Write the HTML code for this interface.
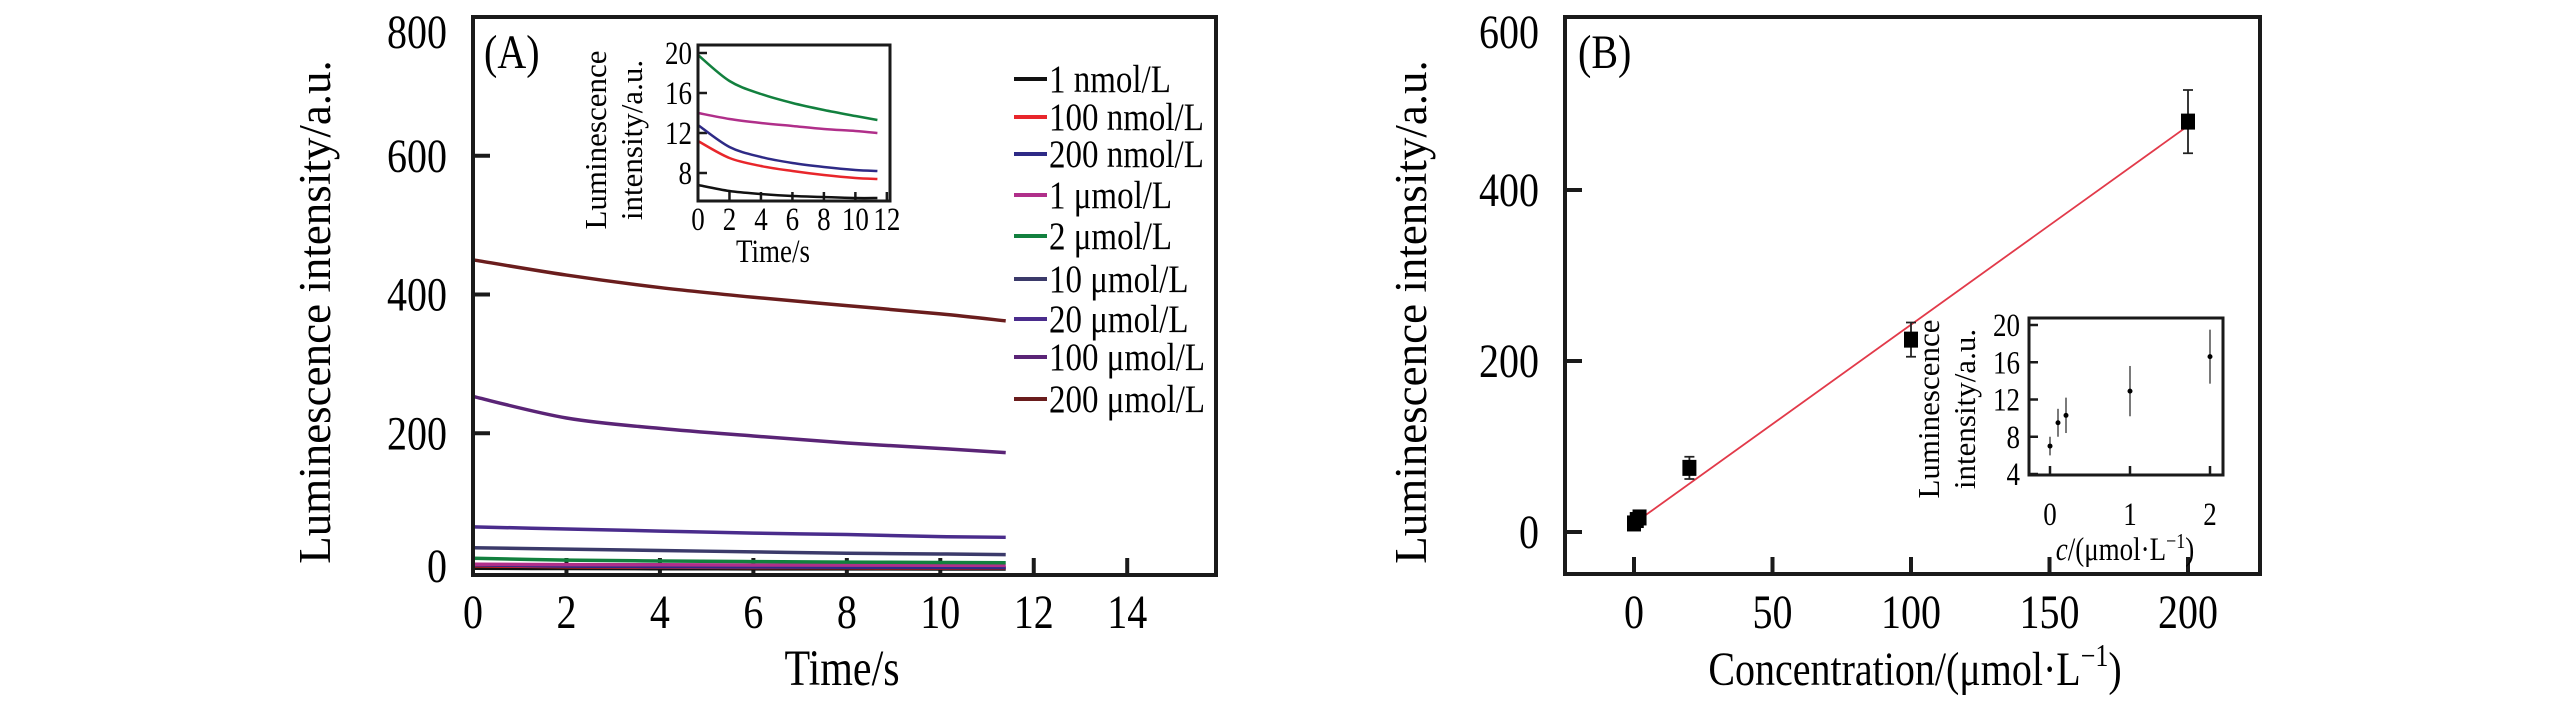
<!DOCTYPE html>
<html><head><meta charset="utf-8"><style>
body{margin:0;background:#fff}
svg{display:block;font-family:"Liberation Serif",serif}
</style></head><body>
<svg id="fig" width="2567" height="709" viewBox="0 0 2567 709" xmlns="http://www.w3.org/2000/svg">
<g id="A"></g><g id="B"></g>
</svg>
<script>
// Panel A data
const tA = [0, 2, 4, 6, 8, 10, 11.4];
const seriesNames = ["1 nmol/L","100 nmol/L","200 nmol/L","1 μmol/L","2 μmol/L","10 μmol/L","20 μmol/L","100 μmol/L","200 μmol/L"];
const seriesColors = ["#111111","#e8262b","#2e2a86","#b02f8a","#12803e","#3b3a6a","#4a2c8c","#5a2476","#6a1d1d"];
const s1n = [6.8, 6.2, 5.9, 5.7, 5.6, 5.5, 5.5];
const s100n = [11.2, 9.5, 8.7, 8.2, 7.8, 7.5, 7.4];
const s200n = [12.8, 10.6, 9.6, 9.0, 8.6, 8.3, 8.2];
const s1u = [14.0, 13.4, 13.0, 12.7, 12.4, 12.2, 12.0];
const s2u = [19.8, 17.2, 15.9, 15.0, 14.3, 13.7, 13.3];
const s10u = [35, 33, 31, 29, 27, 26, 25];
const s20u = [65, 62, 59, 56, 54, 51, 50];
const s100u = [253, 222, 207, 196, 186, 178, 172];
const s200u = [450, 428, 410, 396, 384, 372, 362];
const allA = [s1n,s100n,s200n,s1u,s2u,s10u,s20u,s100u,s200u];
const xTicksA = [0,2,4,6,8,10,12,14];
const yTicksA = [0,200,400,600,800];
const xTicksInA = [0,2,4,6,8,10,12];
const yTicksInA = [8,12,16,20];
// Panel B data
const concB = [0, 1, 2, 20, 100, 200];
const meanB = [10, 14, 17, 75, 225, 480];
const errB = [4, 4, 4, 13, 20, 37];
const fitB = [10, 475];
const xTicksB = [0,50,100,150,200];
const yTicksB = [0,200,400,600];
const concIn = [0, 0.1, 0.2, 1, 2];
const meanIn = [7.0, 9.5, 10.3, 12.9, 16.6];
const errIn = [1.0, 1.5, 1.9, 2.7, 2.9];
const xTicksInB = [0,1,2];
const yTicksInB = [4,8,12,16,20];

const NS="http://www.w3.org/2000/svg";
const SY=1.2;
function mk(parent,tag,attrs,text){const e=document.createElementNS(NS,tag);for(const k in attrs)e.setAttribute(k,attrs[k]);if(text!==undefined)e.textContent=text;parent.appendChild(e);return e;}
function txt(parent,x,y,size,anchor,text){return mk(parent,'text',{x:0,y:0,'font-size':size,'text-anchor':anchor,transform:`translate(${x},${y}) scale(1,${SY})`},text);}
function lin(d0,d1,r0,r1){return v=>r0+(v-d0)*(r1-r0)/(d1-d0);}
function smooth(p){let d=`M${p[0][0]},${p[0][1]}`;for(let i=0;i<p.length-1;i++){const p0=p[Math.max(i-1,0)],p1=p[i],p2=p[i+1],p3=p[Math.min(i+2,p.length-1)];
 d+=`C${p1[0]+(p2[0]-p0[0])/6},${p1[1]+(p2[1]-p0[1])/6} ${p2[0]-(p3[0]-p1[0])/6},${p2[1]-(p3[1]-p1[1])/6} ${p2[0]},${p2[1]}`;}return d;}

// ===== Panel A =====
const gA=document.getElementById('A');
const AX={l:473,r:1216,t:17,b:575};
const xA=lin(0,15.9,AX.l,AX.r), yA=lin(0,800,572,17);
for(const v of xTicksA){const x=xA(v);
 const tk=mk(gA,'line',{x1:x,x2:x,y1:AX.b,y2:AX.b-17,stroke:'#1a1a1a','stroke-width':4});
 
 
 const lb=txt(gA,x,628,40,'middle',v);
 
 }
for(const v of yTicksA){const y=yA(v);
 if(v>0&&v<800){const tk=mk(gA,'line',{x1:AX.l,x2:AX.l+17,y1:y,y2:y,stroke:'#1a1a1a','stroke-width':4});
 
 }
 const lb=txt(gA,447,Math.min(Math.max(y,32),566)+16,40,'end',v);
 
 }
allA.forEach((s,i)=>{
 const pts=tA.map((t,j)=>[xA(t),yA(i<5? s[j]*(i==4?1:0.8):s[j])]);
 const p=mk(gA,'path',{d:smooth(pts),fill:'none',stroke:seriesColors[i],'stroke-width':3.5});
 
 });
const fA=mk(gA,'rect',{x:AX.l,y:AX.t,width:AX.r-AX.l,height:AX.b-AX.t,fill:'none',stroke:'#1a1a1a','stroke-width':4});


const yTA=mk(gA,'text',{x:0,y:0,'font-size':45,'text-anchor':'middle',transform:'translate(330,312) rotate(-90)'},'Luminescence intensity/a.u.');


const xTA=txt(gA,842,685,42,'middle','Time/s');


const lA=txt(gA,484,68,40,'start','(A)');


// legend
const legY=[79,117,154,195,236,279,319,357,399];
seriesNames.forEach((n,i)=>{
 const ln=mk(gA,'line',{x1:1014,x2:1047,y1:legY[i],y2:legY[i],stroke:seriesColors[i],'stroke-width':4});
 
 
 const tx=txt(gA,1049,legY[i]+13,33,'start',n);
 
 });
// inset A
const IA={l:698,r:890,t:45,b:201};
const xIA=lin(0,12.2,IA.l,IA.r), yIA=lin(20,8,53,173);
for(const v of xTicksInA){const x=xIA(v);
 const tk=mk(gA,'line',{x1:x,x2:x,y1:IA.b,y2:IA.b-9,stroke:'#1a1a1a','stroke-width':2.5});
 
 
 const lb=txt(gA,x,230,27,'middle',v);
 
 }
for(const v of yTicksInA){const y=yIA(v);
 const tk=mk(gA,'line',{x1:IA.l,x2:IA.l+9,y1:y,y2:y,stroke:'#1a1a1a','stroke-width':2.5});
 
 
 const lb=txt(gA,692,y+11,27,'end',v);
 
 }
allA.slice(0,5).forEach((s,i)=>{
 const pts=tA.map((t,j)=>[xIA(t),yIA(s[j])]);
 const p=mk(gA,'path',{d:smooth(pts),fill:'none',stroke:seriesColors[i],'stroke-width':2.5});
 
 });
const fIA=mk(gA,'rect',{x:IA.l,y:IA.t,width:IA.r-IA.l,height:IA.b-IA.t,fill:'none',stroke:'#1a1a1a','stroke-width':3});


const iyA=mk(gA,'text',{'font-size':31,'text-anchor':'middle',transform:'translate(606,140) rotate(-90)'});


mk(iyA,'tspan',{x:0,dy:0},'Luminescence');
mk(iyA,'tspan',{x:0,dy:36},'intensity/a.u.');
const ixA=txt(gA,773,262,27,'middle','Time/s');



// ===== Panel B =====
const gB=document.getElementById('B');
const BX={l:1565,r:2260,t:17,b:574};
const xB=lin(0,200,1634,2188), yB=lin(0,600,532,19);
for(const v of xTicksB){const x=xB(v);
 const tk=mk(gB,'line',{x1:x,x2:x,y1:BX.b,y2:BX.b-17,stroke:'#1a1a1a','stroke-width':4});
 
 
 const lb=txt(gB,x,628,40,'middle',v);
 
 }
for(const v of yTicksB){const y=yB(v);
 if(v<600){const tk=mk(gB,'line',{x1:BX.l,x2:BX.l+17,y1:y,y2:y,stroke:'#1a1a1a','stroke-width':4});
 
 }
 const lb=txt(gB,1539,Math.max(y,32)+16,40,'end',v);
 
 }
const fit=mk(gB,'line',{x1:xB(0),y1:yB(fitB[0]),x2:xB(200),y2:yB(fitB[1]),stroke:'#e23a4a','stroke-width':1.8});


concB.forEach((c,i)=>{const x=xB(c),y=yB(meanB[i]);
 const eb=mk(gB,'path',{d:`M${x},${yB(meanB[i]-errB[i])}V${yB(meanB[i]+errB[i])}M${x-5},${yB(meanB[i]-errB[i])}h10M${x-5},${yB(meanB[i]+errB[i])}h10`,stroke:'#222','stroke-width':1.8,fill:'none'});
 
 
 const pt=mk(gB,'rect',{x:x-7,y:y-8,width:14,height:16,fill:'#000'});
 
 });
const fB=mk(gB,'rect',{x:BX.l,y:BX.t,width:BX.r-BX.l,height:BX.b-BX.t,fill:'none',stroke:'#1a1a1a','stroke-width':4});


const yTB=mk(gB,'text',{'font-size':45,'text-anchor':'middle',transform:'translate(1426,312) rotate(-90)'},'Luminescence intensity/a.u.');


const xTB=mk(gB,'text',{x:0,y:0,'font-size':40,'text-anchor':'middle',transform:`translate(1915,685) scale(1,${SY})`});


mk(xTB,'tspan',{},'Concentration/(μmol·L');
mk(xTB,'tspan',{dy:-16,'font-size':26},'−1');
mk(xTB,'tspan',{dy:16},')');
const lB=txt(gB,1578,68,40,'start','(B)');


// inset B
const IB={l:2029,r:2223,t:318,b:475};
const xIB=lin(0,2,2050,2210), yIB=lin(4,20,474,325);
for(const v of xTicksInB){const x=xIB(v);
 const tk=mk(gB,'line',{x1:x,x2:x,y1:IB.b,y2:IB.b-9,stroke:'#1a1a1a','stroke-width':2.5});
 
 
 const lb=txt(gB,x,525,27,'middle',v);
 
 }
for(const v of yTicksInB){const y=yIB(v);
 const tk=mk(gB,'line',{x1:IB.l,x2:IB.l+9,y1:y,y2:y,stroke:'#1a1a1a','stroke-width':2.5});
 
 
 const lb=txt(gB,2020,y+11,27,'end',v);
 
 }
concIn.forEach((c,i)=>{const x=xIB(c);
 const eb=mk(gB,'line',{x1:x,x2:x,y1:yIB(meanIn[i]-errIn[i]),y2:yIB(meanIn[i]+errIn[i]),stroke:'#333','stroke-width':1.3});
 
 
 const pt=mk(gB,'circle',{cx:x,cy:yIB(meanIn[i]),r:2.5,fill:'#000'});
 
 });
const fIB=mk(gB,'rect',{x:IB.l,y:IB.t,width:IB.r-IB.l,height:IB.b-IB.t,fill:'none',stroke:'#1a1a1a','stroke-width':3});


const iyB=mk(gB,'text',{'font-size':31,'text-anchor':'middle',transform:'translate(1939,409) rotate(-90)'});


mk(iyB,'tspan',{x:0,dy:0},'Luminescence');
mk(iyB,'tspan',{x:0,dy:36},'intensity/a.u.');
const ixB=mk(gB,'text',{x:0,y:0,'font-size':27,'text-anchor':'middle',transform:`translate(2125,560) scale(1,${SY})`});


mk(ixB,'tspan',{'font-style':'italic'},'c');
mk(ixB,'tspan',{},'/(μmol·L');
mk(ixB,'tspan',{dy:-10,'font-size':18},'−1');
mk(ixB,'tspan',{dy:10},')');
</script>
</body></html>
